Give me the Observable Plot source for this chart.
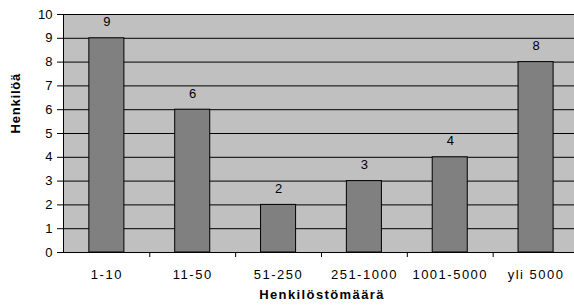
<!DOCTYPE html>
<html>
<head>
<meta charset="utf-8">
<script src="https://cdn.jsdelivr.net/npm/d3@7"></script>
<script src="https://cdn.jsdelivr.net/npm/@observablehq/plot@0.6"></script>
<style>
  html, body { margin: 0; padding: 0; background: white; }
</style>
</head>
<body>
<div id="chart"></div>
<script>
const categories = ["1-10", "11-50", "51-250", "251-1000", "1001-5000", "yli 5000"];
const values = [9, 6, 2, 3, 4, 8];
const yTicks = [0, 1, 2, 3, 4, 5, 6, 7, 8, 9, 10];
const xTitle = "Henkilöstömäärä";
const yTitle = "Henkilöä";

const data = categories.map((c, i) => ({cat: c, value: values[i]}));
const step = (578.5 - 63.45) / categories.length;

const chart = Plot.plot({
  width: 574,
  height: 308,
  marginLeft: 63,
  marginRight: 0,
  marginTop: 14,
  marginBottom: 56,
  style: {fontFamily: "'Liberation Sans', Arial, sans-serif", fontSize: "13px", background: "white", color: "black"},
  x: {domain: categories, range: [63.45, 578.5], padding: 0, round: false, axis: null, label: null},
  y: {domain: [0, 10], axis: null, label: null},
  marks: [
    Plot.frame({fill: "#c0c0c0", stroke: "none"}),
    Plot.ruleY(yTicks.slice(1), {stroke: "black", strokeWidth: 1}),
    Plot.barY(data, {x: "cat", y: "value", fill: "#808080", stroke: "black", strokeWidth: 1, insetLeft: 25.4, insetRight: 25.4}),
    Plot.ruleY([0], {stroke: "black"}),
    Plot.frame({anchor: "left", stroke: "black"}),
    Plot.axisY({ticks: yTicks, tickSize: 6, tickPadding: 5, fontSize: 13, stroke: "black", label: null}),
    Plot.axisX({ticks: categories.slice(1), tickSize: 5, dx: -step / 2, tickFormat: () => "", stroke: "black", label: null}),
    Plot.axisX({tickSize: 0, tickPadding: 17, fontSize: 13, label: null}),
    Plot.text(data, {x: "cat", y: "value", text: d => String(d.value), dy: -16, fontSize: 13, fill: "black"}),
    Plot.text([xTitle], {frameAnchor: "bottom", text: d => d, dy: 46.5, dx: 3, fontSize: 13, fontWeight: "bold", fill: "black"}),
    Plot.text([yTitle], {frameAnchor: "left", text: d => d, dx: -48, rotate: -90, fontSize: 13, fontWeight: "bold", fill: "black"})
  ]
});

document.getElementById("chart").appendChild(chart);
const svg = d3.select(chart);
svg.selectAll("g[aria-label='x-axis tick label'] text").attr("letter-spacing", "1.5px");
svg.selectAll("g[aria-label='text'] text").filter(function() { return this.textContent === xTitle; }).attr("letter-spacing", "1.4px");
svg.selectAll("g[aria-label='text'] text").filter(function() { return this.textContent === yTitle; }).attr("letter-spacing", "0.8px");
</script>
</body>
</html>
